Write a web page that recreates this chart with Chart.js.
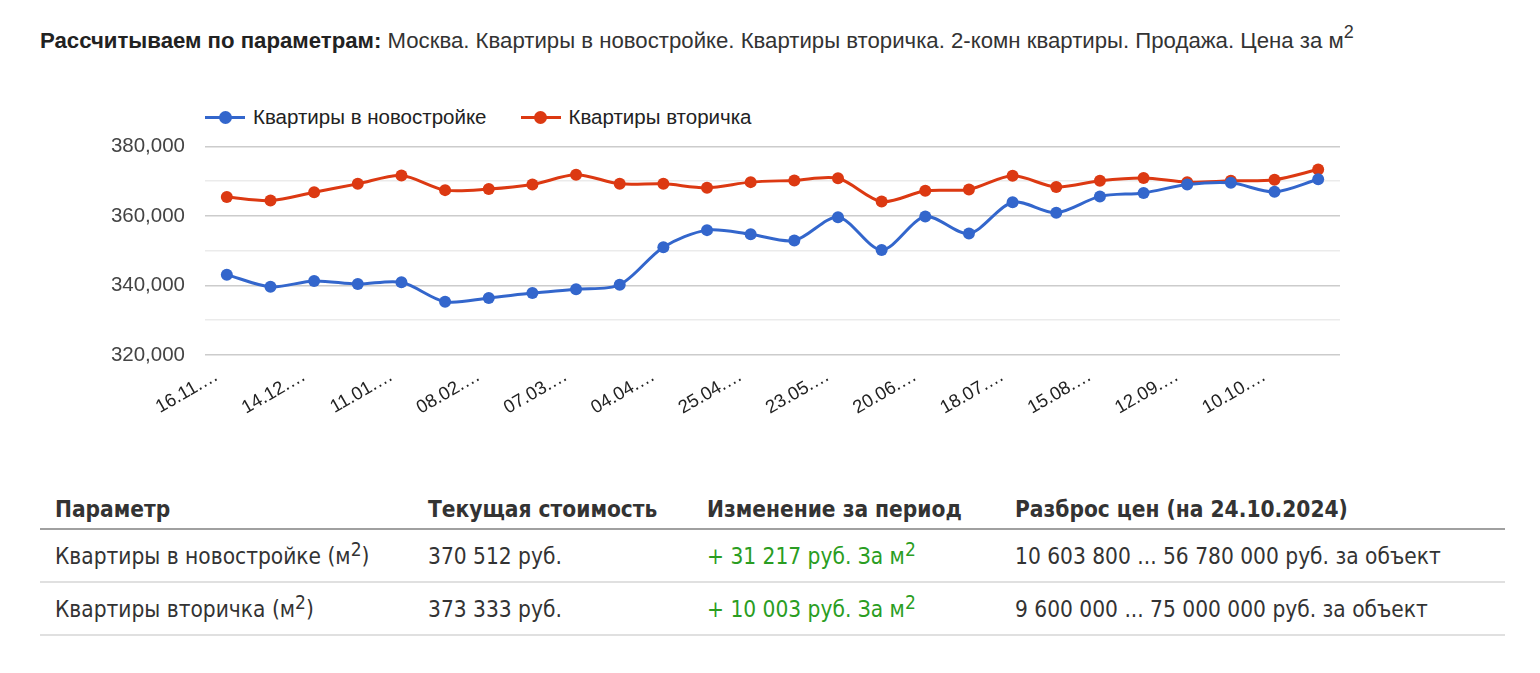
<!DOCTYPE html>
<html><head><meta charset="utf-8">
<script src="https://cdn.jsdelivr.net/npm/chart.js@4"></script>
<style>
html,body{margin:0;padding:0;background:#fff;width:1540px;height:673px;overflow:hidden;}
#title{position:absolute;left:40px;top:28px;font-family:Arial,"Liberation Sans",sans-serif;font-size:22.2px;color:#333;white-space:nowrap;}
#title b{color:#222;}
#title sup{font-size:18px;line-height:0;position:relative;top:-2px;}
#legend{position:absolute;left:205px;top:105px;font-family:Arial,"Liberation Sans",sans-serif;font-size:20.5px;color:#222;display:flex;}
.li{display:flex;align-items:center;margin-right:34px;}
.sw{position:relative;width:40px;height:13px;margin-right:8px;}
.sw .ln{position:absolute;left:0;right:0;top:5px;height:3px;}
.sw .dt{position:absolute;left:13.5px;top:0;width:13px;height:13px;border-radius:50%;}
#wrap{position:absolute;left:0;top:114px;width:1540px;height:311px;}
table{position:absolute;left:40px;top:490px;width:1465px;border-collapse:collapse;font-family:"DejaVu Sans Condensed","DejaVu Sans",sans-serif;font-size:22.5px;color:#333;}
th{text-align:left;font-weight:bold;height:38px;padding:0 0 0 15px;border-bottom:2px solid #a0a0a0;vertical-align:middle;}
td{height:51px;padding:0 0 0 15px;border-bottom:2px solid #e0e0e0;vertical-align:middle;}
td sup,th sup{font-size:19px;line-height:0;}
.g{color:#2a9d22;}
</style></head>
<body>
<div id="title"><b>Рассчитываем по параметрам:</b> Москва. Квартиры в новостройке. Квартиры вторичка. 2-комн квартиры. Продажа. Цена за м<sup>2</sup></div>
<div id="legend"></div>
<div id="wrap"><canvas id="c"></canvas></div>
<table>
<colgroup><col style="width:373px"><col style="width:279px"><col style="width:308px"><col></colgroup>
<tr><th>Параметр</th><th>Текущая стоимость</th><th>Изменение за период</th><th>Разброс цен (на 24.10.2024)</th></tr>
<tr><td>Квартиры в новостройке (м<sup>2</sup>)</td><td>370 512 руб.</td><td class="g">+ 31 217 руб. За м<sup>2</sup></td><td>10 603 800 ... 56 780 000 руб. за объект</td></tr>
<tr><td>Квартиры вторичка (м<sup>2</sup>)</td><td>373 333 руб.</td><td class="g">+ 10 003 руб. За м<sup>2</sup></td><td>9 600 000 ... 75 000 000 руб. за объект</td></tr>
</table>
<script>
const dates = ["16.11.2023","30.11.2023","14.12.2023","28.12.2023","11.01.2024","25.01.2024","08.02.2024","22.02.2024","07.03.2024","21.03.2024","04.04.2024","18.04.2024","25.04.2024","09.05.2024","23.05.2024","06.06.2024","20.06.2024","04.07.2024","18.07.2024","01.08.2024","15.08.2024","29.08.2024","12.09.2024","26.09.2024","10.10.2024","24.10.2024"];
const newBuild = [343100,339600,341300,340400,340900,335300,336400,337800,338900,340200,351000,355900,354700,352900,359600,350200,359800,354900,363900,360900,365600,366600,369000,369500,366900,370512];
const secondary = [365400,364400,366800,369200,371600,367400,367700,369000,371800,369200,369200,368100,369700,370200,370800,364100,367200,367600,371500,368300,370100,370900,369700,370100,370400,373333];
const seriesNames = ["Квартиры в новостройке","Квартиры вторичка"];
const seriesColors = ["#3366cc","#dc3912"];
const yTicks = [320000,340000,360000,380000];

const chart = new Chart(document.getElementById('c'), {
  type:'line',
  data:{labels:dates,datasets:[
    {label:seriesNames[0],data:newBuild,borderColor:seriesColors[0],backgroundColor:seriesColors[0],borderWidth:3,pointRadius:6,pointBorderWidth:0,tension:0.3},
    {label:seriesNames[1],data:secondary,borderColor:seriesColors[1],backgroundColor:seriesColors[1],borderWidth:3,pointRadius:6,pointBorderWidth:0,tension:0.3}
  ]},
  options:{
    responsive:true,maintainAspectRatio:false,animation:false,
    layout:{padding:{top:21,right:200,left:0,bottom:0}},
    plugins:{legend:{display:false},tooltip:{enabled:false}},
    scales:{
      x:{offset:true,grid:{display:false},border:{display:false},
        afterFit:s=>{s.height=70;},
        ticks:{autoSkip:false,minRotation:30,maxRotation:30,padding:2,labelOffset:-10,color:'#222',font:{family:'Arial, "Liberation Sans"',size:18.5},
          callback:function(v,i){return i%2===0? this.getLabelForValue(v).slice(0,6)+'…' : '';}}},
      y:{min:320000,max:380000,
        afterFit:s=>{s.width=205;},
        border:{display:false},
        grid:{drawTicks:false,lineWidth:1.5,color:c=>yTicks.includes(c.tick.value)?'#cccccc':'#ebebeb'},
        ticks:{stepSize:10000,padding:20,color:'#444',font:{family:'Arial, "Liberation Sans"',size:20.5},
          callback:v=>yTicks.includes(v)? v.toLocaleString('en-US'):''}}
    }
  }
});
const lg=document.getElementById('legend');
chart.data.datasets.forEach(d=>{
  const it=document.createElement('div');it.className='li';
  it.innerHTML='<span class="sw"><span class="ln" style="background:'+d.borderColor+'"></span><span class="dt" style="background:'+d.borderColor+'"></span></span><span>'+d.label+'</span>';
  lg.appendChild(it);
});
</script>
</body></html>
